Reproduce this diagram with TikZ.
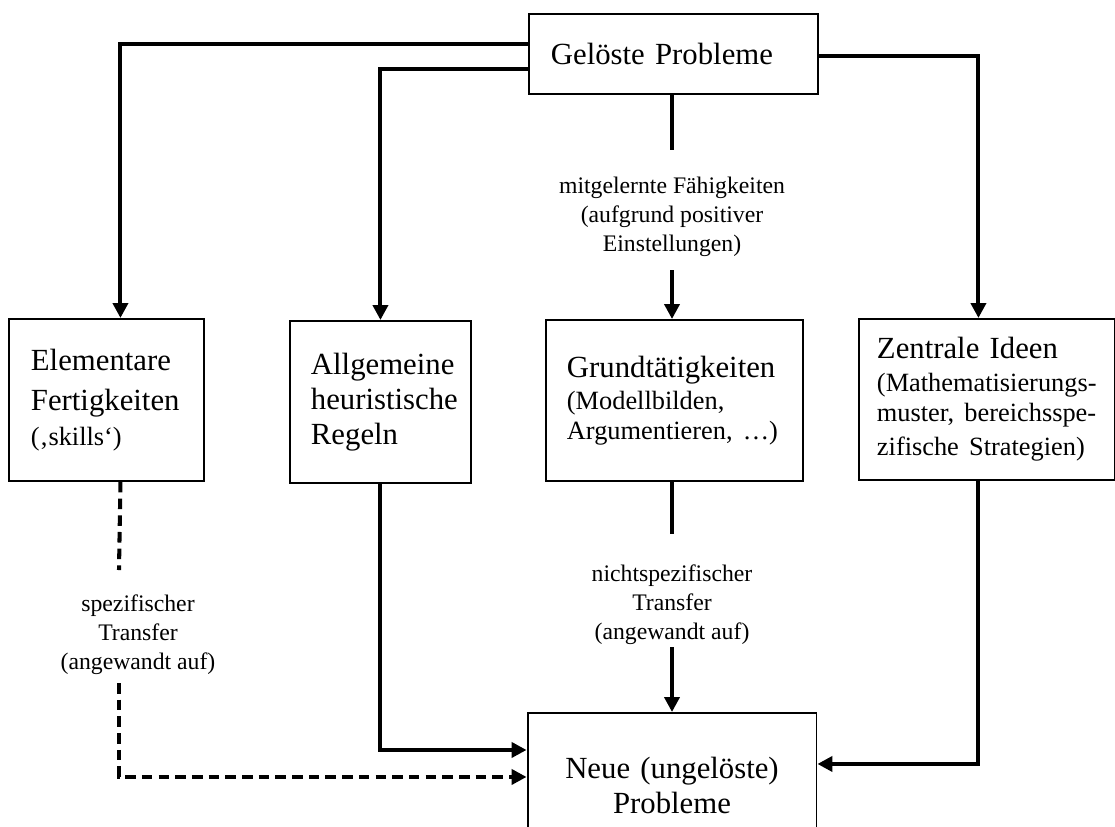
\documentclass[tikz,border=0pt]{standalone}
\usepackage{fontspec}
\setmainfont{Liberation Serif}
\usetikzlibrary{positioning,calc}
\usetikzlibrary{arrows.meta}
\newcommand{\bigtxt}{\fontsize{17.5}{19.8}\selectfont}
\newcommand{\smalltxt}{\fontsize{15}{17}\selectfont}
\tikzset{
	box/.style={draw,line width=1.1pt,rectangle,anchor=north west,align=left,inner ysep=0pt,font=\bigtxt},
	lbl/.style={align=center,inner sep=0pt,font=\fontsize{13.5}{16.4}\selectfont},
	plain/.style={draw,line width=2.3pt},
	conn/.style={draw,line width=2.3pt,-{Triangle[length=8.5pt,width=8.5pt]}},
	dline/.style={plain,dash pattern=on 6pt off 3.5pt},
	dconn/.style={conn,dash pattern=on 6pt off 3.5pt},
}

\begin{document}
\begin{tikzpicture}[x=0.02cm,y=-0.02cm]
	\useasboundingbox (0,0) rectangle (1115,826);
	\clip (0,0) rectangle (1115,826);
	
	% Solved problems
	\node[box,text width=4.9cm,inner xsep=0.44cm,minimum height=1.6cm] (top) at (528,13) {Gelöste Probleme};
	
	% Four kinds of abilities
	\node[box,text width=3.02cm,inner xsep=0.44cm,minimum height=3.24cm] (elem) at (8,318)
		{Elementare\\[2.8pt]Fertigkeiten\\\smalltxt(‚skills‘)};
	\node[box,text width=2.78cm,inner xsep=0.42cm,minimum height=3.24cm] (heur) at (289,320)
		{Allgemeine\\heuristische\\Regeln};
	\node[box,text width=4.3cm,inner xsep=0.42cm,minimum height=3.22cm] (grund) at (545,319)
		{Grundtätigkeiten\\[1.5pt]\smalltxt(Modellbilden,\\\smalltxt Argumentieren, …)\par\vspace{10pt}};
	\node[box,text width=4.4cm,inner xsep=0.36cm,minimum height=3.22cm] (ideen) at (858,318)
		{Zentrale Ideen\\[1.5pt]\smalltxt(Mathematisierungs-\\\smalltxt muster, bereichsspe-\\\smalltxt zifische Strategien)};
	
	% New problems
	\node[box,align=center,anchor=north,text width=4.9cm,inner xsep=0.44cm,minimum height=2.9cm] (neu) at (672,712)
		{Neue (ungelöste)\\Probleme};
	
	% Labels
	\node[lbl] (lab1) at (672,217) {mitgelernte Fähigkeiten\\(aufgrund positiver\\Einstellungen)};
	\node[lbl] (lab2) at (672,605) {nichtspezifischer\\Transfer\\(angewandt auf)};
	\node[lbl] (lab3) at (138,635) {spezifischer\\Transfer\\(angewandt auf)};
	
	\coordinate (c1) at (672,150);
	\coordinate (c2) at (672,270);
	\coordinate (c3) at (672,534);
	\coordinate (c4) at (672,647);
	\coordinate (d1) at (119,570);
	\coordinate (d2) at (119,683);
	
	% Draw connections
	\draw[conn] ([yshift=0.2cm]top.west) -| ([xshift=0.28cm]elem.north);
	\draw[conn] ([yshift=-0.3cm]top.west) -| (heur.north);
	\draw[conn] ([yshift=-0.04cm]top.east) -| ([xshift=-0.17cm]ideen.north);
	\draw[plain] (c1 |- top.south) -- (c1);
	\draw[conn] (c2) -- (c2 |- grund.north);
	
	\draw[dline] ([xshift=0.28cm]elem.south) -- (d1);
	\draw[dconn] (d2) |- ([yshift=0.17cm]neu.west);
	\draw[conn] (heur.south) |- ([yshift=0.71cm]neu.west);
	\draw[plain] (c3 |- grund.south) -- (c3);
	\draw[conn] (c4) -- (c4 |- neu.north);
	\draw[conn] ([xshift=-0.17cm]ideen.south) |- ([yshift=0.43cm]neu.east);
	
\end{tikzpicture}
\end{document}
